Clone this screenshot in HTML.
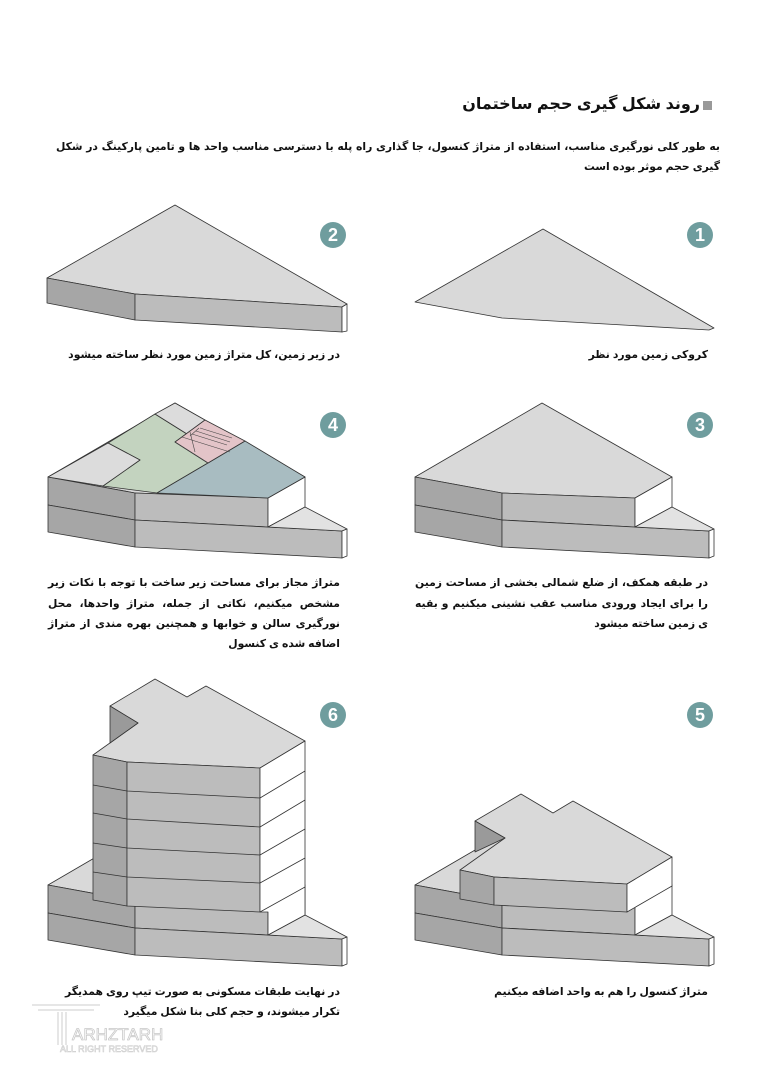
<!DOCTYPE html>
<html><head><meta charset="utf-8"><style>
body{margin:0;background:#fff;width:764px;height:1080px;overflow:hidden;position:relative;font-family:"Liberation Sans","DejaVu Sans",sans-serif;}
.t{position:absolute;direction:rtl;text-align:right;font-weight:bold;color:#111;white-space:nowrap;}
.l{position:absolute;direction:rtl;font-weight:bold;color:#111;white-space:nowrap;font-size:10.8px;text-align:justify;text-align-last:justify;height:20px;line-height:20px;}
.r{text-align:right;text-align-last:right;}
</style></head><body>
<svg width="764" height="1080" style="position:absolute;left:0;top:0" stroke="#333" stroke-width="0.8" stroke-linejoin="round">
<defs>
<g id="base">
<polygon points="48,477 175,403 305,477 268,498 135,493" fill="#d9d9d9"/>
<polygon points="48,477 135,493 135,520 48,505" fill="#a6a6a6"/>
<polygon points="48,505 135,520 135,547 48,532" fill="#a6a6a6"/>
<polygon points="135,493 268,498 268,527 135,520" fill="#bcbcbc"/>
<polygon points="135,520 342,531 342,558 135,547" fill="#bcbcbc"/>
<polygon points="268,498 305,477 305,507 268,527" fill="#fff"/>
<polygon points="268,527 305,507 347,529 342,531" fill="#e2e2e2"/>
<polygon points="342,531 347,529 347,556 342,558" fill="#fff"/>
</g>
</defs>
<rect x="703" y="101" width="9" height="9" fill="#999" stroke="none"/>
<polygon points="415,302 543,229 714,328 709,330 502,318" fill="#d9d9d9"/>
<polygon points="47,278 175,205 347,304 342,307 135,294" fill="#d9d9d9"/>
<polygon points="47,278 135,294 135,320 47,303" fill="#a6a6a6"/>
<polygon points="135,294 342,307 342,332 135,320" fill="#bcbcbc"/>
<polygon points="342,307 347,304 347,331 342,332" fill="#fff"/>
<use href="#base" transform="translate(367,0)"/>
<use href="#base"/>
<polygon points="108,443 155,414 187,434 175,442 208,463 157,493 103,486 140,460" fill="#c3d3bf"/>
<polygon points="155,414 175,403 205,420 187,434" fill="#dcdcdc"/>
<polygon points="48,477 108,443 140,460 103,486" fill="#dcdcdc"/>
<polygon points="208,463 245,441 305,477 268,498 157,493" fill="#a8bcc1"/>
<polygon points="175,442 205,420 245,441 208,463" fill="#e3c4c8"/>
<g stroke="#444" stroke-width="0.6">
<line x1="175" y1="442" x2="208" y2="463"/><line x1="190" y1="432" x2="195" y2="452"/>
<line x1="182" y1="437" x2="230" y2="452"/>
<line x1="200" y1="428" x2="232" y2="438"/><line x1="196" y1="431" x2="230" y2="442"/><line x1="192" y1="434" x2="227" y2="445"/><line x1="199" y1="428" x2="190" y2="436"/>
</g>
<use href="#base" transform="translate(367,408)"/>
<polygon points="460,870 505,838 475,821 521,794 553,813 573,801 672,857 627,884 494,877" fill="#d9d9d9"/>
<polygon points="475,821 505,838 475,852" fill="#9a9a9a"/>
<polygon points="460,870 494,877 494,905 460,899" fill="#a6a6a6"/>
<polygon points="494,877 627,884 627,912 494,905" fill="#bcbcbc"/>
<polygon points="627,884 672,857 672,886 627,912" fill="#fff"/>
<use href="#base" transform="translate(0,408)"/>
<polygon points="93,755 138,723 110,706 155,679 187,697 206,686 305,741 260,768 127,762" fill="#d9d9d9"/>
<polygon points="110,706 138,723 110,743" fill="#9a9a9a"/>
<polygon points="93,755 127,762 127,906 93,900" fill="#a6a6a6"/>
<polygon points="127,762 260,768 260,912 127,906" fill="#bcbcbc"/>
<polygon points="260,768 305,741 305,915 268,935 268,912 260,912" fill="#fff"/>
<g fill="none">
<polyline points="93,785 127,791 260,798 305,771"/>
<polyline points="93,813 127,819 260,827 305,800"/>
<polyline points="93,843 127,848 260,855 305,829"/>
<polyline points="93,872 127,877 260,883 305,858"/>
<polyline points="260,912 305,887"/>
</g>
<g fill="#6f9d9e" stroke="none">
<circle cx="700" cy="235" r="13"/><circle cx="333" cy="235" r="13"/>
<circle cx="700" cy="425" r="13"/><circle cx="333" cy="425" r="13"/>
<circle cx="700" cy="715" r="13"/><circle cx="333" cy="715" r="13"/>
</g>
<g fill="#fff" stroke="none" font-family="Liberation Sans" font-weight="bold" font-size="18" text-anchor="middle">
<text x="700" y="241">1</text><text x="333" y="241">2</text>
<text x="700" y="431">3</text><text x="333" y="431">4</text>
<text x="700" y="721">5</text><text x="333" y="721">6</text>
</g>
<g fill="none" stroke="#ccc" stroke-width="1">
<line x1="32" y1="1005" x2="100" y2="1005"/><line x1="38" y1="1010" x2="94" y2="1010"/>
<line x1="58" y1="1012" x2="58" y2="1045"/><line x1="62" y1="1012" x2="62" y2="1045"/><line x1="66" y1="1012" x2="66" y2="1045"/>
</g>
<text x="72" y="1040" fill="none" stroke="#c8c8c8" stroke-width="0.8" font-size="17" font-family="Liberation Sans">ARHZTARH</text>
<text x="60" y="1052" fill="none" stroke="#cfcfcf" stroke-width="0.6" font-size="9" font-family="Liberation Sans">ALL RIGHT RESERVED</text>
</svg>
<div class="t" style="right:64px;top:94px;font-size:16px;">روند شکل گیری حجم ساختمان</div>
<div class="l" style="left:56px;width:664px;top:137px;">به طور کلی نورگیری مناسب، استفاده از متراژ کنسول، جا گذاری راه پله با دسترسی مناسب واحد ها و تامین پارکینگ در شکل</div>
<div class="l r" style="left:56px;width:664px;top:157px;">گیری حجم موثر بوده است</div>
<div class="l r" style="left:415px;width:293px;top:345px;">کروکی زمین مورد نظر</div>
<div class="l r" style="left:48px;width:292px;top:345px;">در زیر زمین، کل متراژ زمین مورد نظر ساخته میشود</div>
<div class="l" style="left:415px;width:293px;top:573px;">در طبقه همکف، از ضلع شمالی بخشی از مساحت زمین</div>
<div class="l" style="left:415px;width:293px;top:594px;">را برای ایجاد ورودی مناسب عقب نشینی میکنیم و بقیه</div>
<div class="l r" style="left:415px;width:293px;top:614px;">ی زمین ساخته میشود</div>
<div class="l" style="left:48px;width:292px;top:573px;">متراژ مجاز برای مساحت زیر ساخت با توجه با نکات زیر</div>
<div class="l" style="left:48px;width:292px;top:594px;">مشخص میکنیم، نکاتی از جمله، متراژ واحدها، محل</div>
<div class="l" style="left:48px;width:292px;top:614px;">نورگیری سالن و خوابها و همچنین بهره مندی از متراژ</div>
<div class="l r" style="left:48px;width:292px;top:634px;">اضافه شده ی کنسول</div>
<div class="l r" style="left:415px;width:293px;top:982px;">متراژ کنسول را هم به واحد اضافه میکنیم</div>
<div class="l r" style="left:48px;width:292px;top:982px;">در نهایت طبقات مسکونی به صورت تیپ روی همدیگر</div>
<div class="l r" style="left:48px;width:292px;top:1002px;">تکرار میشوند، و حجم کلی بنا شکل میگیرد</div>
</body></html>
